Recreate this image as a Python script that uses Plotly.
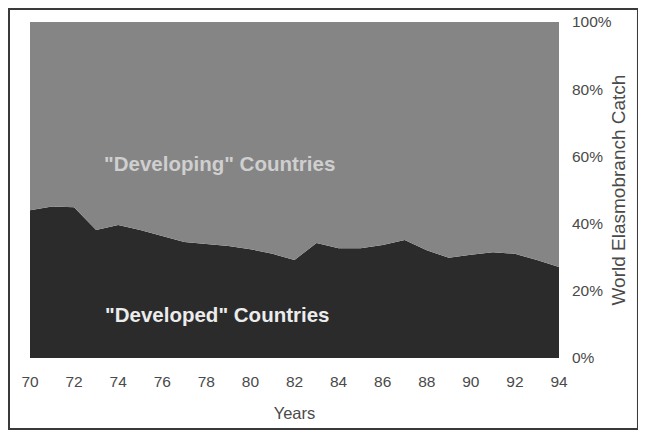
import plotly.graph_objects as go

years = list(range(1970, 1995))
year_ticks = list(range(1970, 1995, 2))
year_labels = [str(y % 100) for y in year_ticks]
pct_ticks = [0, 20, 40, 60, 80, 100]
pct_labels = [f"{p}%" for p in pct_ticks]
developed = [44.0, 45.1, 44.9, 38.1, 39.6, 38.1, 36.3, 34.5, 33.9, 33.3, 32.4, 31.0, 29.2,
             34.2, 32.7, 32.7, 33.6, 35.1, 32.1, 29.8, 30.7, 31.5, 31.0, 29.2, 27.1]
developing = [round(100 - v, 1) for v in developed]

FONT = "Liberation Sans, Arial, Helvetica, sans-serif"

fig = go.Figure()
fig.add_trace(go.Scatter(x=years, y=developed, stackgroup="a", mode="lines",
                         line=dict(width=0, color="#2b2b2b"), fillcolor="#2b2b2b",
                         name="Developed", hoverinfo="skip"))
fig.add_trace(go.Scatter(x=years, y=developing, stackgroup="a", mode="lines",
                         line=dict(width=0, color="#858585"), fillcolor="#858585",
                         name="Developing", hoverinfo="skip"))

fig.add_annotation(x=1978.6, y=58, text="<b>\"Developing\" Countries</b>", showarrow=False,
                   font=dict(family=FONT, size=20.5, color="#cfcfcf"))
fig.add_annotation(x=1978.5, y=12.8, text="<b>\"Developed\" Countries</b>", showarrow=False,
                   font=dict(family=FONT, size=20.5, color="#ececec"))

# outer frame
fig.add_shape(type="rect", xref="paper", yref="paper",
              x0=-0.0397, x1=1.1493, y0=-0.2113, y1=1.0387,
              line=dict(color="#3a3a3a", width=2), layer="below")

fig.update_layout(
    width=638, height=424,
    margin=dict(l=22, r=87, t=14, b=74, autoexpand=False),
    paper_bgcolor="white", plot_bgcolor="white",
    showlegend=False,
    font=dict(family=FONT, size=15.5, color="#4a4a4a"),
    xaxis=dict(range=[1970, 1994], tickmode="array", tickvals=year_ticks, ticktext=year_labels,
               showgrid=False, zeroline=False, showline=False, ticks="", automargin=False,
               ticklabelstandoff=12,
               title=dict(text="Years", standoff=18, font=dict(size=16.5))),
    yaxis=dict(range=[0, 100], side="right", tickmode="array", tickvals=pct_ticks,
               ticktext=pct_labels, automargin=False,
               showgrid=False, zeroline=False, showline=False, ticks="",
               ticklabelstandoff=12,
               title=dict(text="World Elasmobranch Catch", standoff=0, font=dict(size=19))),
)

fig.write_html("out.html")
